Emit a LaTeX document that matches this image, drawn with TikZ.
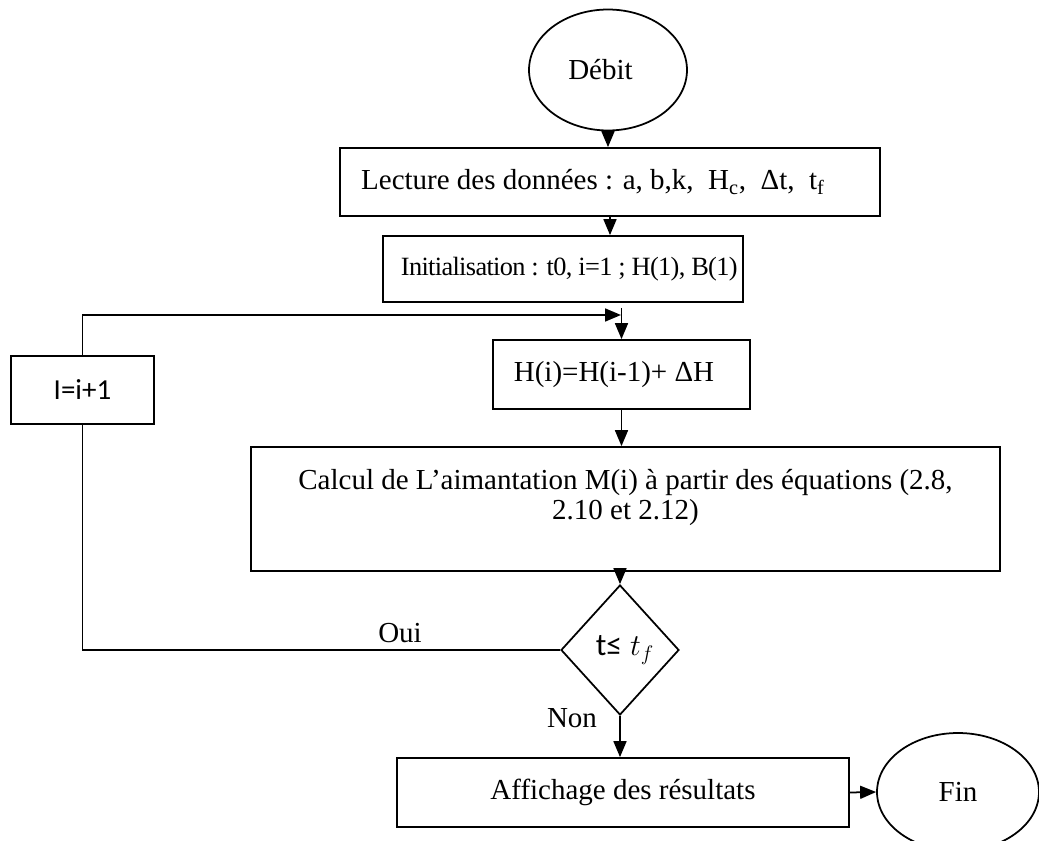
\documentclass[tikz,border=0pt]{standalone}
\usepackage{fontspec}
\setmainfont{Liberation Serif}
\newfontfamily\narrowserif[LetterSpace=-2.5]{Liberation Serif}
\newfontfamily\calibri{Carlito}
\usetikzlibrary{shapes.geometric,arrows.meta}

\begin{document}
\begin{tikzpicture}[x=0.02cm,y=-0.02cm,line width=1pt,
  every node/.style={font=\fontsize{16.5}{17}\selectfont},
  box/.style={draw,rectangle,inner sep=0pt},
  arr/.style={-{Triangle[length=3.2mm,width=2.6mm]}}]
\useasboundingbox (0,0) rectangle (1039,841);
% boxes
\node[draw,ellipse,minimum width=3.16cm,minimum height=2.42cm] (debut) at (608,70) {Débit\hspace{0.3cm}\mbox{}};
\node[box,minimum width=10.8cm,minimum height=1.36cm] (lect) at (610,182)
  {Lecture des données : a, b,k,\enspace H\textsubscript{c},\enspace Δt,\enspace t\textsubscript{f}\hspace{0.68cm}\mbox{}};
\node[box,minimum width=7.2cm,minimum height=1.32cm,font=\fontsize{15}{17}\narrowserif] (init) at (563,269)
  {\hspace{0.25cm}Initialisation : t0, i=1 ; H(1), B(1)};
\node[box,minimum width=5.14cm,minimum height=1.38cm] (h) at (621.5,374.5) {H(i)=H(i-1)+ ΔH\hspace{0.3cm}\mbox{}};
\node[box,minimum width=14.98cm,minimum height=2.48cm,align=center] (calc) at (625.5,509)
  {Calcul de L’aimantation M(i) à partir des équations (2.8,\\ 2.10 et 2.12)\\ \mbox{}};
\node[draw,diamond,minimum width=2.36cm,minimum height=2.6cm,inner sep=0pt,font=\fontsize{18}{20}\selectfont] (test) at (620,650)
  {\hspace{0.2cm}{\calibri t≤} $t_f$};
\node[box,minimum width=9.04cm,minimum height=1.38cm] (aff) at (623,792.5) {Affichage des résultats};
\node[draw,ellipse,minimum width=3.24cm,minimum height=2.36cm] (fin) at (958,792) {Fin};
\node[box,minimum width=2.86cm,minimum height=1.36cm,font=\fontsize{16.5}{17}\calibri] (incr) at (82.5,390) {I=i+1};
\coordinate (join) at (621,315);
% connectors
\draw[arr] (debut.south) -- (debut.south |- lect.north);
\draw[arr] (lect.south) -- (lect.south |- init.north);
\draw[arr] (incr.north) |- (join);
\draw[arr] ([yshift=-0.1cm]init.south -| h.north) -- (h.north);
\draw[arr] (h.south) -- (h.south |- calc.north);
\draw[arr] (test.north |- calc.south) -- (test.north);
\draw (test.west) -| (incr.south);
\node (oui) at (400,633) {Oui};
\draw[arr] (test.south) -- (test.south |- aff.north);
\node (non) at (572,718) {Non};
\draw[arr] (aff.east) -- (fin.west);
\end{tikzpicture}
\end{document}
